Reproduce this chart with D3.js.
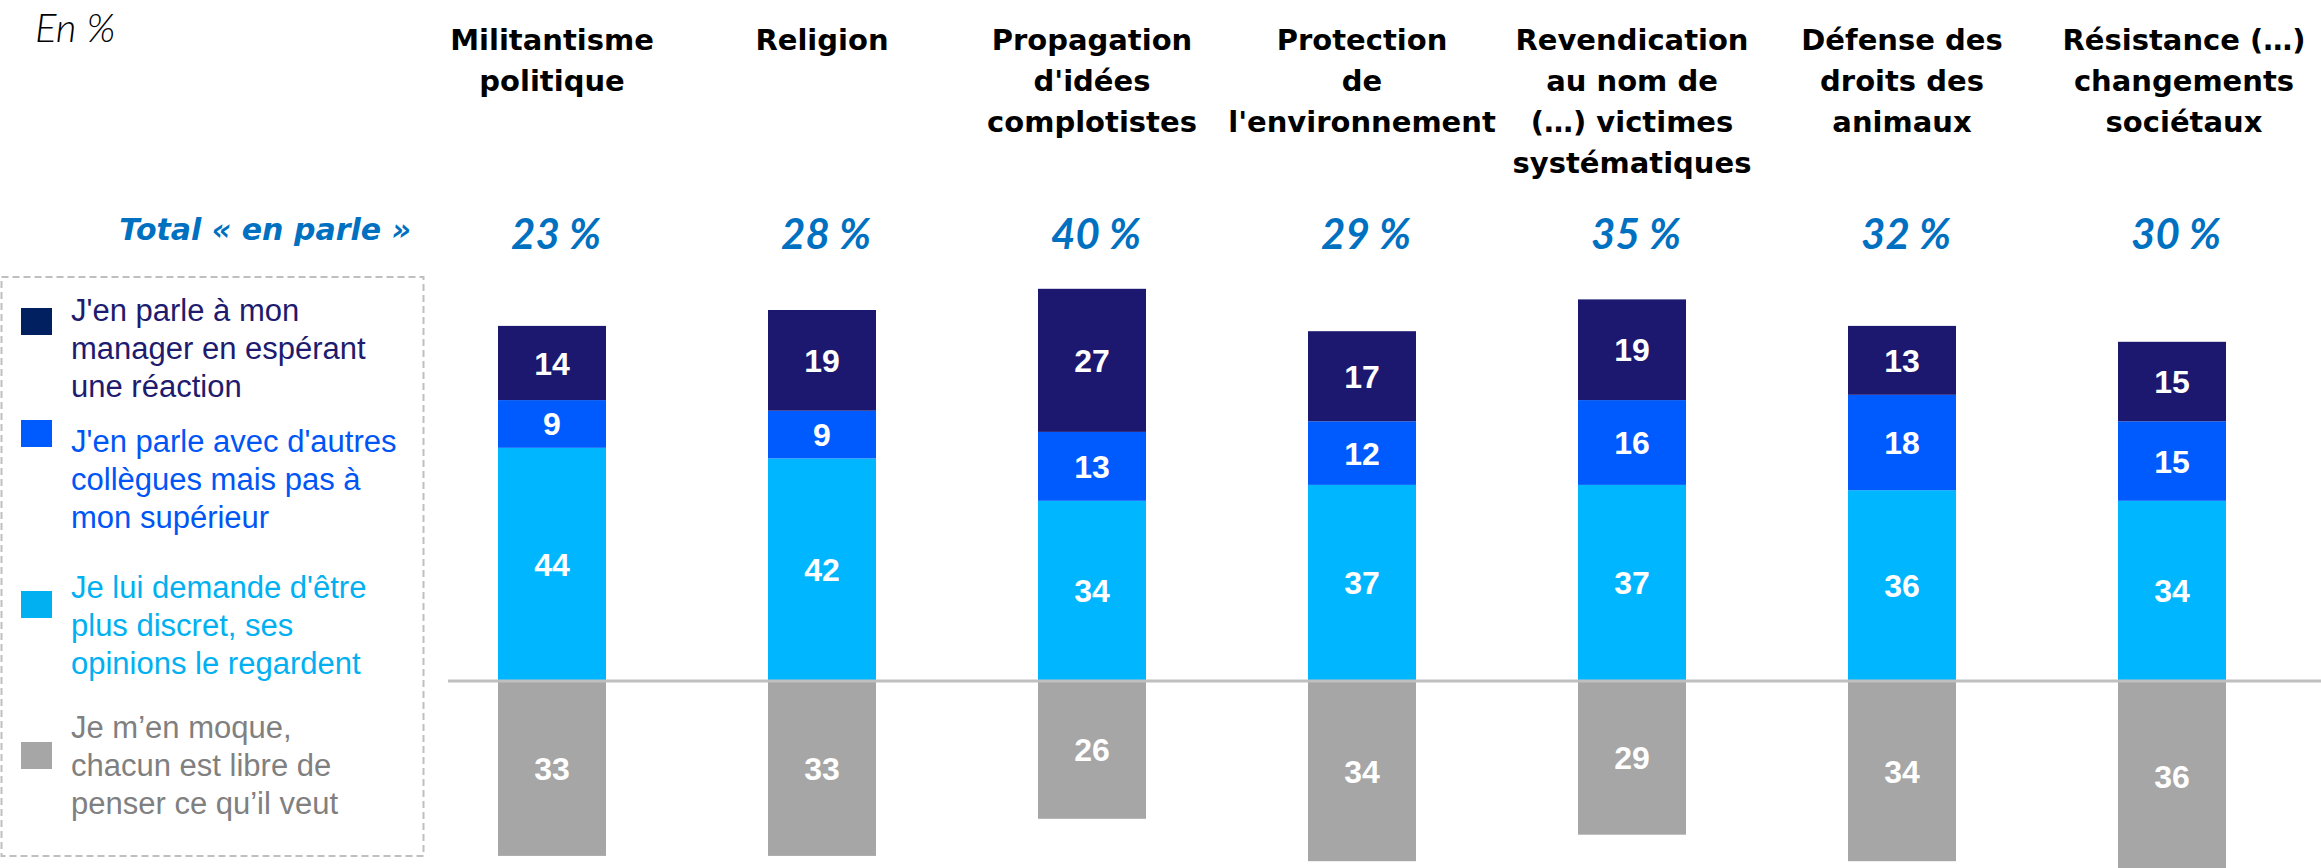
<!DOCTYPE html>
<html>
<head>
<meta charset="utf-8">
<script src="https://cdn.jsdelivr.net/npm/d3@7"></script>
<style>
  body { margin: 0; background: #ffffff; }
  svg { display: block; }
</style>
</head>
<body>
<svg id="chart" width="2321" height="868"></svg>
<script>
// categories (title lines as shown above each bar)
var categories = ["militantisme", "religion", "complot", "environnement", "victimes", "animaux", "societaux"];
var categoryLines = [
  ["Militantisme", "politique"],
  ["Religion"],
  ["Propagation", "d'idées", "complotistes"],
  ["Protection", "de", "l'environnement"],
  ["Revendication", "au nom de", "(…) victimes", "systématiques"],
  ["Défense des", "droits des", "animaux"],
  ["Résistance (…)", "changements", "sociétaux"]
];

// Total « en parle »
var totalEnParle = [23, 28, 40, 29, 35, 32, 30];

// series values (%)
var manager   = [14, 19, 27, 17, 19, 13, 15];
var collegues = [9, 9, 13, 12, 16, 18, 15];
var discret   = [44, 42, 34, 37, 37, 36, 34];
var moque     = [33, 33, 26, 34, 29, 34, 36];

var seriesKeys = ["manager", "collegues", "discret", "moque"];
var seriesLabels = [
  ["J'en parle à mon", "manager en espérant", "une réaction"],
  ["J'en parle avec d'autres", "collègues mais pas à", "mon supérieur"],
  ["Je lui demande d'être", "plus discret, ses", "opinions le regardent"],
  ["Je m’en moque,", "chacun est libre de", "penser ce qu’il veut"]
];

// styles
var barColors = { manager: "#1c186f", collegues: "#005bff", discret: "#00b6ff", moque: "#a6a6a6" };
var swatchColors = ["#002060", "#005bff", "#00b0f0", "#a6a6a6"];
var legendTextColors = ["#201b6e", "#0055f5", "#00b0f0", "#808080"];
var accent = "#0070c0";
var valueFont = "'Liberation Sans Narrow', 'Liberation Sans', Arial, sans-serif";

var svg = d3.select("#chart");

var rows = categories.map(function (c, i) {
  return { cat: c, manager: manager[i], collegues: collegues[i], discret: discret[i], moque: moque[i] };
});

var baseY = 681, unit = 5.3, barWidth = 108;

var xScale = d3.scalePoint().domain(categories).range([552, 2172]);
var yScale = d3.scaleLinear().domain([-40, 75]).range([baseY + 40 * unit, baseY - 75 * unit]);

// "En %"
svg.append("text")
  .attr("x", 35)
  .attr("y", 42)
  .style("font-family", "Lato, 'Open Sans', sans-serif")
  .style("font-style", "italic")
  .style("font-weight", 300)
  .style("font-size", "40px")
  .style("fill", "#000")
  .text("En %");

// category titles
var titles = svg.append("g").selectAll("text")
  .data(rows)
  .enter()
  .append("text")
  .attr("text-anchor", "middle")
  .style("font-family", "'DejaVu Sans', sans-serif")
  .style("font-weight", "bold")
  .style("font-size", "29px")
  .style("fill", "#000");

titles.each(function (d, i) {
  var t = d3.select(this);
  categoryLines[i].forEach(function (line, j) {
    t.append("tspan")
      .attr("x", xScale(d.cat) + (i === 6 ? 12 : 0))
      .attr("y", 50 + j * 41)
      .text(line);
  });
});

// total row
svg.append("text")
  .attr("x", 411)
  .attr("y", 240)
  .attr("text-anchor", "end")
  .style("font-family", "'DejaVu Sans', sans-serif")
  .style("font-style", "italic")
  .style("font-weight", "bold")
  .style("font-size", "30px")
  .style("fill", accent)
  .text("Total « en parle »");

svg.append("g").selectAll("text")
  .data(totalEnParle)
  .enter()
  .append("text")
  .attr("x", function (d, i) { return xScale(categories[i]) + 4; })
  .attr("y", 249)
  .attr("text-anchor", "middle")
  .style("font-family", "Lato, sans-serif")
  .style("font-style", "italic")
  .style("font-weight", "bold")
  .style("font-size", "42px")
  .style("fill", accent)
  .text(function (d) { return d + " %"; });

// positive stack
var stack = d3.stack().keys(["discret", "collegues", "manager"]);
var layers = stack(rows);

var bars = svg.append("g");

layers.forEach(function (layer) {
  bars.selectAll(null)
    .data(layer)
    .enter()
    .append("rect")
    .attr("x", function (d) { return xScale(d.data.cat) - barWidth / 2; })
    .attr("y", function (d) { return yScale(d[1]); })
    .attr("width", barWidth)
    .attr("height", function (d) { return yScale(d[0]) - yScale(d[1]); })
    .style("fill", barColors[layer.key]);

  bars.selectAll(null)
    .data(layer)
    .enter()
    .append("text")
    .attr("x", function (d) { return xScale(d.data.cat); })
    .attr("y", function (d) { return (yScale(d[0]) + yScale(d[1])) / 2; })
    .attr("dy", "0.36em")
    .attr("text-anchor", "middle")
    .style("font-family", valueFont)
    .style("font-weight", "bold")
    .style("font-size", "32px")
    .style("fill", "#fff")
    .text(function (d) { return d.data[layer.key]; });
});

// negative part (gray)
bars.selectAll(null)
  .data(rows)
  .enter()
  .append("rect")
  .attr("x", function (d) { return xScale(d.cat) - barWidth / 2; })
  .attr("y", yScale(0))
  .attr("width", barWidth)
  .attr("height", function (d) { return yScale(-d.moque) - yScale(0); })
  .style("fill", barColors.moque);

bars.selectAll(null)
  .data(rows)
  .enter()
  .append("text")
  .attr("x", function (d) { return xScale(d.cat); })
  .attr("y", function (d) { return (yScale(0) + yScale(-d.moque)) / 2; })
  .attr("dy", "0.36em")
  .attr("text-anchor", "middle")
  .style("font-family", valueFont)
  .style("font-weight", "bold")
  .style("font-size", "32px")
  .style("fill", "#fff")
  .text(function (d) { return d.moque; });

// zero line
svg.append("line")
  .attr("x1", 448)
  .attr("x2", 2321)
  .attr("y1", yScale(0))
  .attr("y2", yScale(0))
  .style("stroke", "#bfbfbf")
  .style("stroke-width", 3);

// legend
var legend = svg.append("g");

legend.append("rect")
  .attr("x", 1.5)
  .attr("y", 277)
  .attr("width", 422)
  .attr("height", 579)
  .style("fill", "none")
  .style("stroke", "#bfbfbf")
  .style("stroke-width", 2)
  .style("stroke-dasharray", "7,4");

var legendPos = [
  { sy: 308, ty: 321 },
  { sy: 420, ty: 452 },
  { sy: 591, ty: 598 },
  { sy: 742, ty: 738 }
];

seriesKeys.forEach(function (k, i) {
  legend.append("rect")
    .attr("x", 21)
    .attr("y", legendPos[i].sy)
    .attr("width", 31)
    .attr("height", 27)
    .style("fill", swatchColors[i]);

  var t = legend.append("text")
    .style("font-family", "'Liberation Sans', Arial, sans-serif")
    .style("font-size", "31px")
    .style("fill", legendTextColors[i]);

  seriesLabels[i].forEach(function (line, j) {
    t.append("tspan")
      .attr("x", 71)
      .attr("y", legendPos[i].ty + j * 38)
      .text(line);
  });
});
</script>
</body>
</html>
